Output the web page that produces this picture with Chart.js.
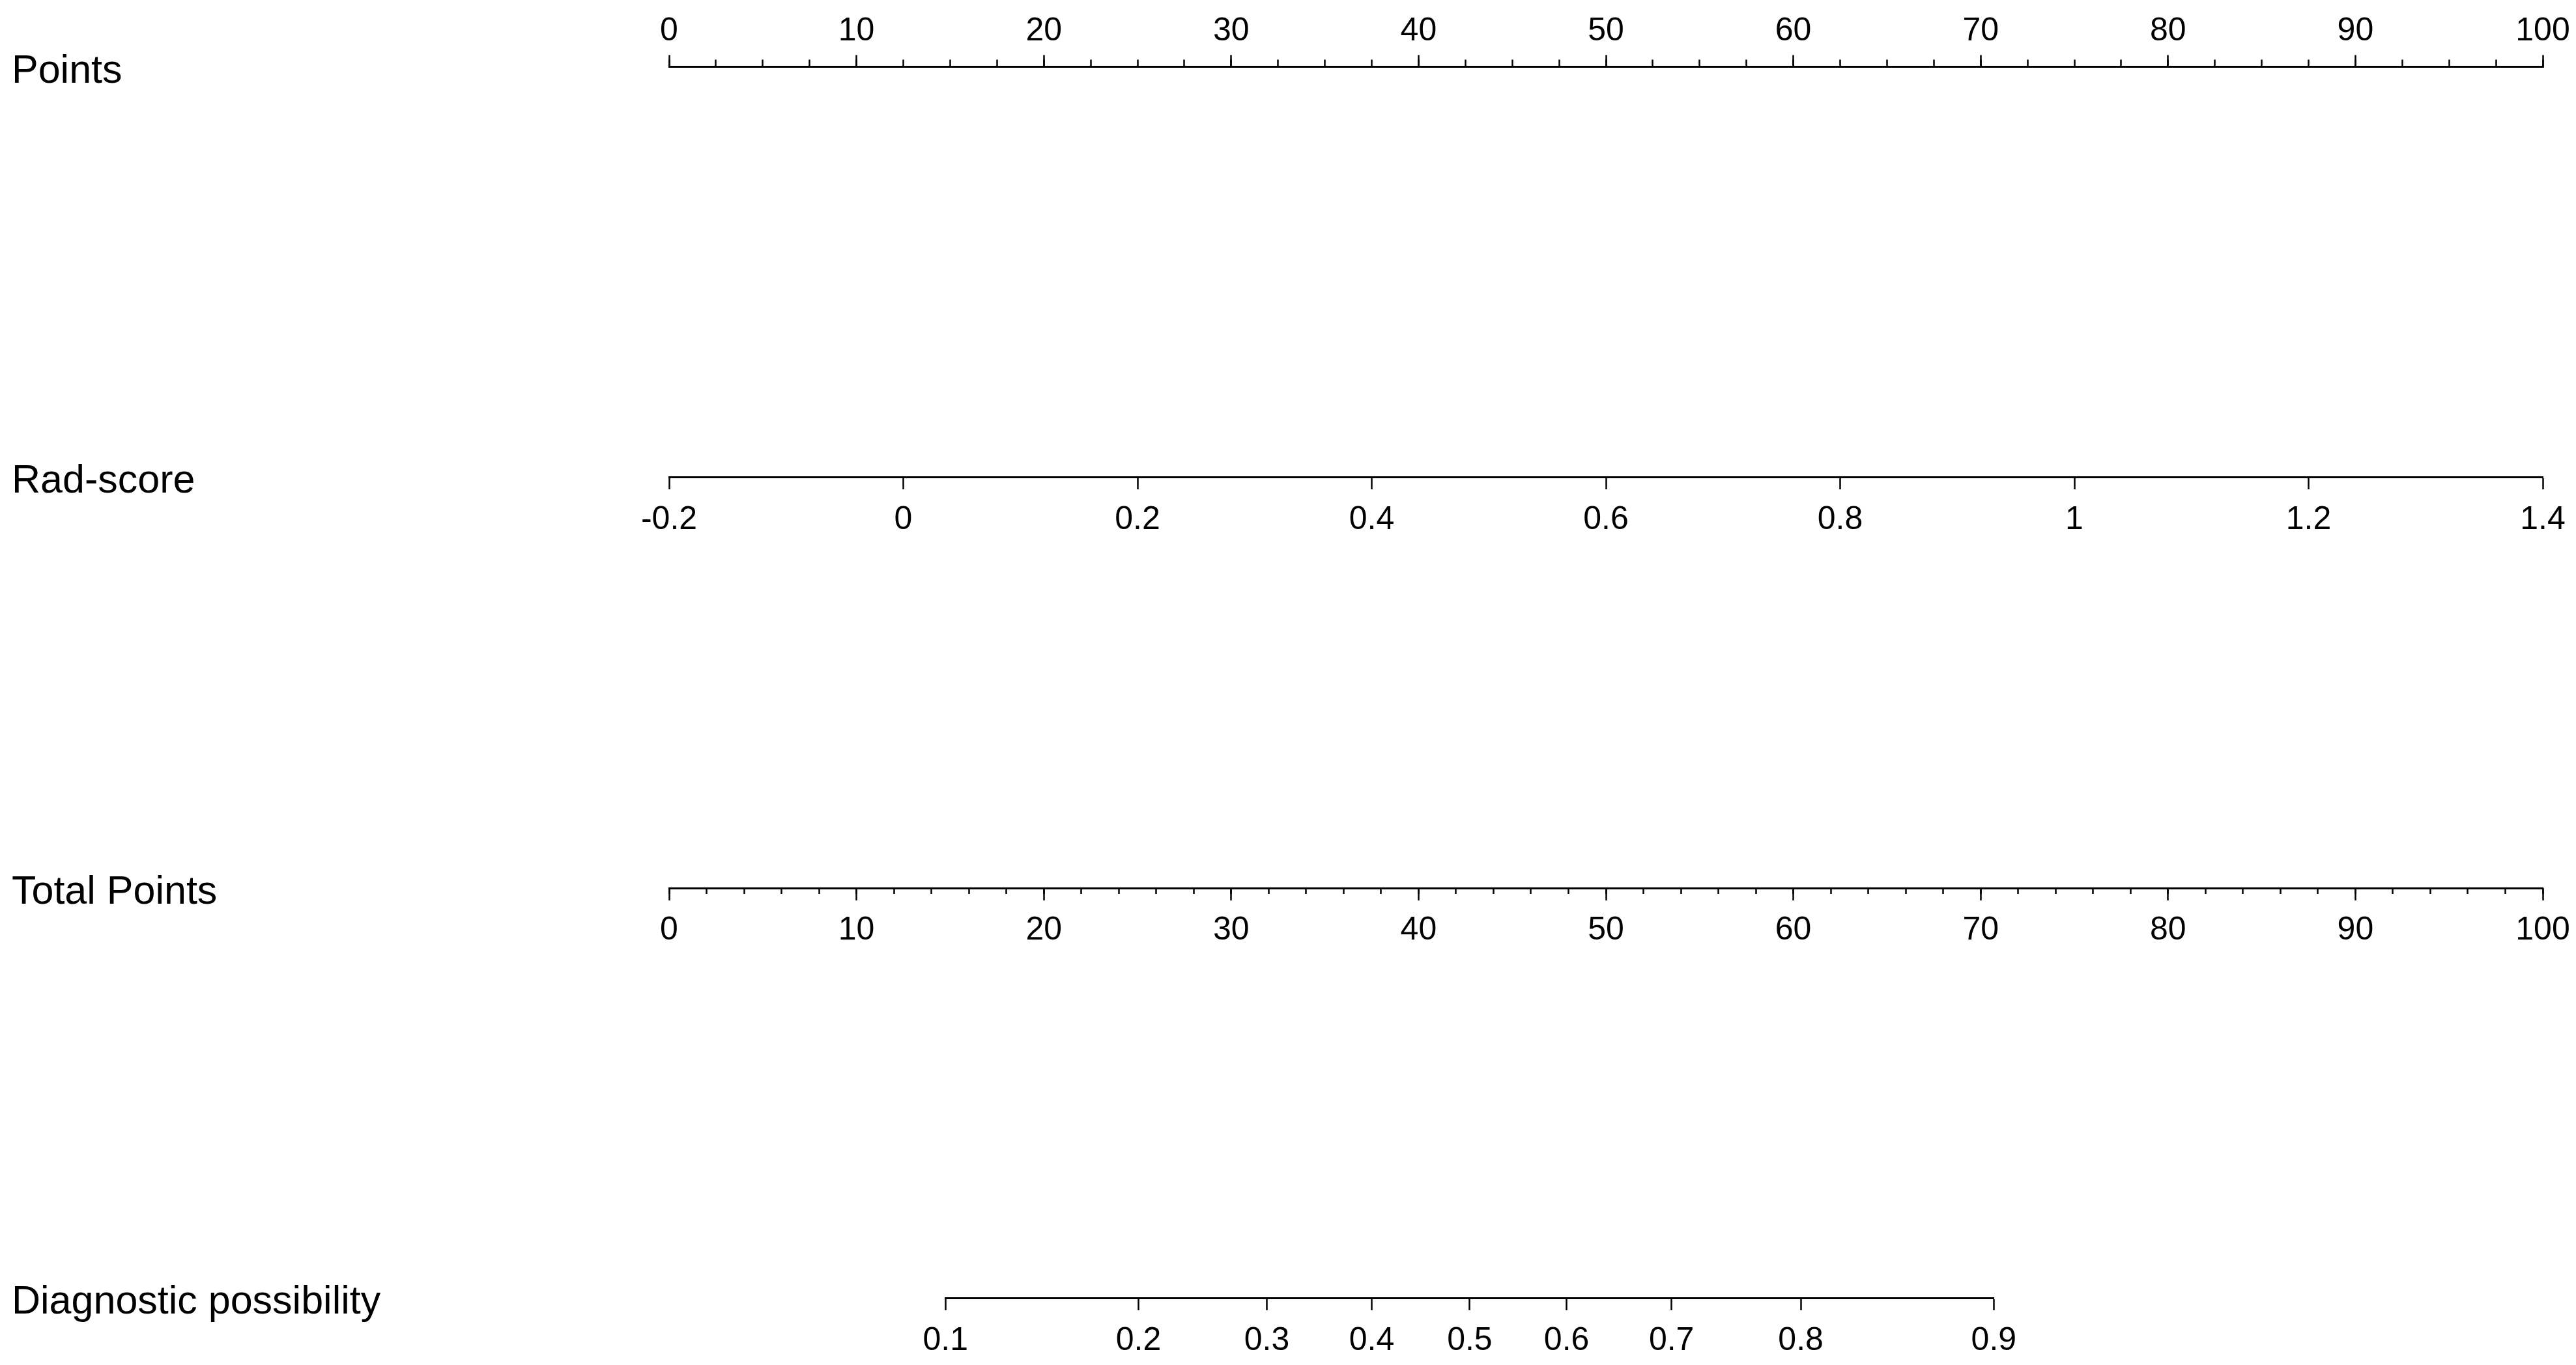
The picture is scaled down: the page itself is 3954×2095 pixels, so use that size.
<!DOCTYPE html>
<html>
<head>
<meta charset="utf-8">
<title>Nomogram</title>
<script src="https://cdn.jsdelivr.net/npm/chart.js@4.4.1/dist/chart.umd.min.js"></script>
<style>
  html, body { margin: 0; padding: 0; background: #fff; }
  #wrap { position: relative; width: 3954px; height: 2095px; overflow: hidden; background: #fff; }
  #wrap canvas { position: absolute; left: 0; top: 0; }
  .row-name {
    position: absolute;
    left: 18px;
    font-family: "Liberation Sans", Arial, sans-serif;
    font-size: 61px;
    line-height: 61px;
    color: #000;
    white-space: nowrap;
  }
</style>
</head>
<body>
<div id="wrap">
  <canvas id="mainChart" width="3954" height="2095"></canvas>
  <canvas id="diagChart" width="3954" height="2095"></canvas>
</div>
<script>
  // row names of the nomogram
  const rowNames = ['Points', 'Rad-score', 'Total Points', 'Diagnostic possibility'];

  // tick values / labels
  const pointsTicks = [0, 10, 20, 30, 40, 50, 60, 70, 80, 90, 100];
  const pointsMinorStep = 2.5;
  const radTicks = [-0.2, 0, 0.2, 0.4, 0.6, 0.8, 1, 1.2, 1.4];
  const totalTicks = [0, 10, 20, 30, 40, 50, 60, 70, 80, 90, 100];
  const totalMinorStep = 2;
  const diagTicks = [0.1, 0.2, 0.3, 0.4, 0.5, 0.6, 0.7, 0.8, 0.9];
  // where each probability tick sits on the Total Points scale
  const diagAtTotal = [14.75, 25.05, 31.9, 37.5, 42.73, 47.9, 53.5, 60.4, 70.7];

  // layout
  const W = 3954, H = 2095;
  const rowY = [103, 732, 1363, 1992];
  const padLeft = 1027, padRight = W - 3903;
  const FONT = '"Liberation Sans", Arial, sans-serif';
  const TICK_SIZE = 50;

  // gap = extra space between tick end and label; done via lineHeight for
  // labels below the axis so ticks.padding does not eat into the chart area
  function axisOpts(row, min, max, cfg) {
    const gap = cfg.gap || 0;
    const below = cfg.tickLength > 0;
    const o = {
      type: 'linear',
      axis: 'x',
      position: { y: rowY[row] },
      min: min,
      max: max,
      border: { display: cfg.border !== false, color: '#000', width: 3 },
      grid: {
        drawOnChartArea: false,
        drawTicks: true,
        tickLength: cfg.tickLength,
        tickWidth: 2.5,
        tickColor: '#000'
      },
      ticks: {
        display: cfg.labels != null,
        autoSkip: false,
        maxRotation: 0,
        minRotation: 0,
        padding: below ? 0 : gap,
        color: '#000',
        font: {
          family: FONT,
          size: TICK_SIZE,
          lineHeight: below ? (TICK_SIZE * 1.2 + 2 * gap) / TICK_SIZE : 1.2
        },
        callback: (v, i) => cfg.labels ? String(cfg.labels[i]) : ''
      }
    };
    if (cfg.values) {
      o.afterBuildTicks = s => { s.ticks = cfg.values.map(v => ({ value: v })); };
    } else {
      o.ticks.stepSize = cfg.step;
    }
    return o;
  }

  const hiddenY = { type: 'linear', axis: 'y', display: false, min: 0, max: H, reverse: true };

  const baseOptions = {
    responsive: false,
    animation: false,
    devicePixelRatio: 1,
    events: [],
    plugins: { legend: { display: false }, tooltip: { enabled: false }, title: { display: false } }
  };

  const mainChart = new Chart(document.getElementById('mainChart'), {
    type: 'scatter',
    data: { datasets: [] },
    options: Object.assign({}, baseOptions, {
      layout: { padding: { left: padLeft, right: padRight, top: 0, bottom: 0 } },
      scales: {
        y: hiddenY,
        pointsMinor: axisOpts(0, 0, 100, { step: pointsMinorStep, tickLength: -11.5, border: false }),
        points: axisOpts(0, 0, 100, { values: pointsTicks, labels: pointsTicks, tickLength: -19.5, gap: -65.5 }),
        rad: axisOpts(1, radTicks[0], radTicks[radTicks.length - 1], { values: radTicks, labels: radTicks, tickLength: 17, gap: 19 }),
        totalMinor: axisOpts(2, 0, 100, { step: totalMinorStep, tickLength: 9, border: false }),
        total: axisOpts(2, 0, 100, { values: totalTicks, labels: totalTicks, tickLength: 17, gap: 18 })
      }
    })
  });

  // the probability axis only covers part of the Total Points range
  const totalScale = mainChart.scales.total;
  const diagLeft = totalScale.getPixelForValue(diagAtTotal[0]);
  const diagRight = totalScale.getPixelForValue(diagAtTotal[diagAtTotal.length - 1]);

  new Chart(document.getElementById('diagChart'), {
    type: 'scatter',
    data: { datasets: [] },
    options: Object.assign({}, baseOptions, {
      layout: { padding: { left: diagLeft, right: W - diagRight, top: 0, bottom: 0 } },
      scales: {
        y: hiddenY,
        diag: axisOpts(3, diagAtTotal[0], diagAtTotal[diagAtTotal.length - 1], { values: diagAtTotal, labels: diagTicks, tickLength: 17, gap: 19 })
      }
    })
  });

  // row names on the left
  const wrap = document.getElementById('wrap');
  rowNames.forEach((name, i) => {
    const d = document.createElement('div');
    d.className = 'row-name';
    d.textContent = name;
    d.style.top = (rowY[i] + 3 - 30) + 'px';
    wrap.appendChild(d);
  });
</script>
</body>
</html>
